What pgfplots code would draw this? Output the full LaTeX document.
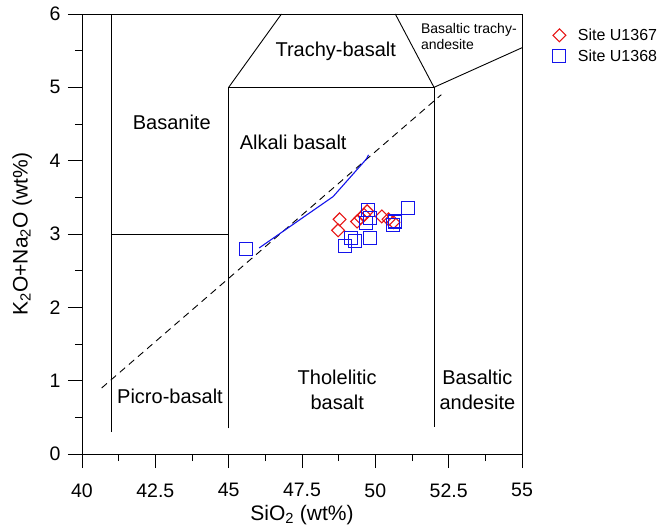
\documentclass[border=0pt]{standalone}
\usepackage{pgfplots}
\pgfplotsset{compat=1.18}
\usepackage{fontspec}
\setmainfont{Liberation Sans}
\usetikzlibrary{calc}
\definecolor{mred}{RGB}{230,20,20}
\definecolor{mblue}{RGB}{20,20,235}
\begin{document}
\begin{tikzpicture}
\begin{axis}[name=ax, scale only axis, width=440pt, height=440pt,
  xmin=40, xmax=55, ymin=0, ymax=6,
  xtick={40,42.5,...,55}, ytick={0,1,...,6},
  minor x tick num=1, minor y tick num=1,
  tick pos=left, tick align=outside,
  major tick length=14pt, minor tick length=7pt,
  axis line style={line width=0.9pt}, every tick/.style={black, line width=0.9pt},
  /pgf/number format/assume math mode=true,
  /pgf/number format/fixed,
  ticklabel style={font=\fontsize{19.5}{21}\selectfont},
  xticklabel style={yshift=-12pt},
  yticklabel style={xshift=-4pt},
  xlabel={SiO\textsubscript{2} (wt\%)},
  ylabel={K\textsubscript{2}O+Na\textsubscript{2}O (wt\%)},
  label style={font=\fontsize{21}{23}\selectfont},
  xlabel style={at={(axis description cs:0.5,-0.139)}, anchor=center},
  ylabel style={at={(axis description cs:-0.136,0.5)}, anchor=center},
  legend style={at={(axis description cs:1.063,0.976)}, anchor=north west, draw=none, fill=none,
    font=\fontsize{16}{18}\selectfont, row sep=4pt,
    /tikz/every odd column/.append style={column sep=10pt}},
  legend cell align=left,
  clip=false,
]
% field boundaries
\addplot[black, line width=0.9pt, forget plot] coordinates {(41,0.3) (41,6)};
\addplot[black, line width=0.9pt, forget plot] coordinates {(41,3) (45,3)};
\addplot[black, line width=0.9pt, forget plot] coordinates {(45,0.35) (45,5) (52,5) (52,0.37)};
\addplot[black, line width=0.9pt, forget plot] coordinates {(45,5) (46.8,6)};
\addplot[black, line width=0.9pt, forget plot] coordinates {(52,5) (50.68,6)};
\addplot[black, line width=0.9pt, forget plot] coordinates {(52,5) (55,5.54)};
\addplot[black, line width=0.9pt, forget plot] coordinates {(40,6) (55,6) (55,0)};
\addplot[black, line width=0.9pt, dash pattern=on 7pt off 5pt, forget plot] coordinates {(40.67,0.90) (52.25,4.90)};
% blue trend line
\addplot[mblue, line width=1.1pt, forget plot] coordinates {(46.04,2.81) (48.56,3.51) (49.69,4.02) (49.77,4.08)};
% data
\addplot[only marks, mark=square, mark size=6.3pt, mark options={mred, line width=1.1pt, rotate=45, scale=0.72}] coordinates {
(48.78,3.20) (48.73,3.05) (49.38,3.17) (49.50,3.22) (49.62,3.26) (49.72,3.31) (50.22,3.24) (50.45,3.20) (50.62,3.16)};
\addlegendentry{Site U1367}
\addplot[only marks, mark=square, mark size=6.5pt, mark options={mblue, line width=1.1pt}] coordinates {
(45.58,2.80) (49.75,3.33) (51.11,3.36) (48.98,2.84) (49.18,2.94) (49.30,2.90) (49.83,2.95) (49.69,3.15) (49.81,3.22) (50.60,3.12) (50.66,3.17)};
\addlegendentry{Site U1368}
% labels
\node[font=\fontsize{20}{22}\selectfont] at (axis cs:43.06,4.52) {Basanite};
\node[font=\fontsize{20}{22}\selectfont] at (axis cs:47.2,4.25) {Alkali basalt};
\node[font=\fontsize{20}{22}\selectfont] at (axis cs:48.65,5.49) {Trachy-basalt};
\node[font=\fontsize{14}{16}\selectfont, align=left, anchor=north west, inner sep=0pt] at (axis cs:51.55,5.88) {Basaltic trachy-\\andesite};
\node[font=\fontsize{20}{22}\selectfont] at (axis cs:43.0,0.78) {Picro-basalt};
\node[font=\fontsize{20}{25}\selectfont, align=center] at (axis cs:48.7,0.87) {Tholelitic\\basalt};
\node[font=\fontsize{20}{25}\selectfont, align=center] at (axis cs:53.48,0.87) {Basaltic\\andesite};
\end{axis}
\pgfresetboundingbox
\path (ax.south west) ++(-82pt,-74pt) rectangle ++(671pt,528pt);
\end{tikzpicture}
\end{document}
